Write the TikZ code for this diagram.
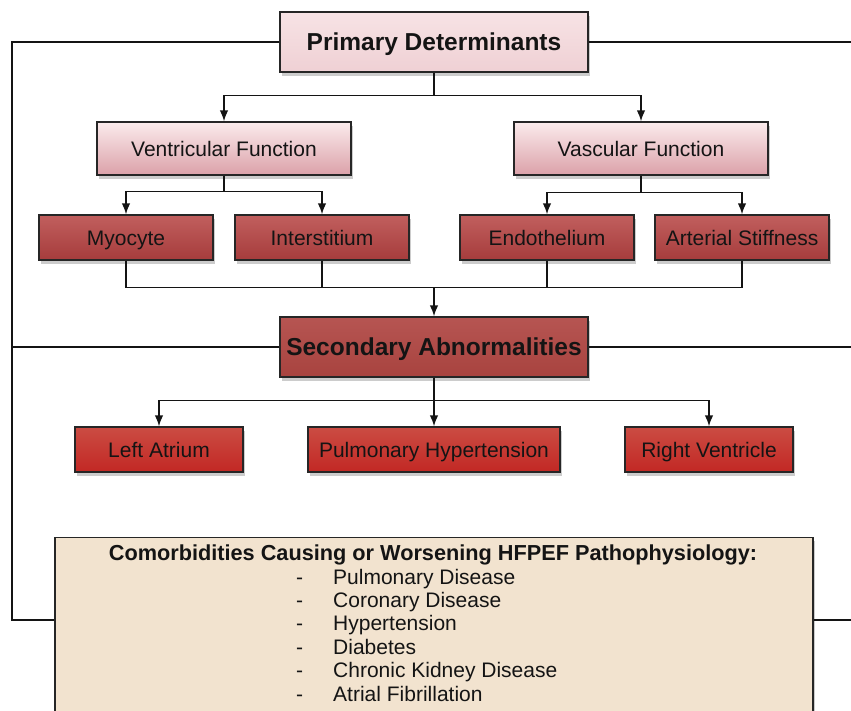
\documentclass[tikz,border=0pt]{standalone}
\usepackage{fontspec}
\setmainfont{Liberation Sans}
\usetikzlibrary{arrows.meta,shadows,calc}
\definecolor{primtop}{HTML}{F7E3E5}
\definecolor{primbot}{HTML}{EFD0D4}
\definecolor{fntop}{HTML}{FBEBEC}
\definecolor{fnbot}{HTML}{DBA1A9}
\definecolor{lvtop}{HTML}{C15F5E}
\definecolor{lvbot}{HTML}{A63C3C}
\definecolor{sectop}{HTML}{B65552}
\definecolor{secbot}{HTML}{A8433F}
\definecolor{l3top}{HTML}{CB4C43}
\definecolor{l3bot}{HTML}{C22824}
\definecolor{combg}{HTML}{F2E3CF}
\definecolor{ink}{HTML}{141414}
\begin{document}
\begin{tikzpicture}[x=1pt,y=-1pt,
  box/.style={draw=black!85, line width=1.4pt, inner sep=0pt, text=ink,
    drop shadow={shadow xshift=1.5pt, shadow yshift=-3.5pt, opacity=.4}},
  bigbox/.style={box, top color=#1top, bottom color=#1bot, minimum width=308pt, minimum height=60pt,
    font=\fontsize{24.5}{28}\selectfont\bfseries, text height=17pt, text depth=0pt},
  midbox/.style={box, top color=fntop, bottom color=fnbot, minimum width=254pt, minimum height=53pt,
    font=\fontsize{21}{25}\selectfont, text height=15pt, text depth=0pt},
  lvbox/.style={box, top color=lvtop, bottom color=lvbot, minimum width=174pt, minimum height=45pt,
    font=\fontsize{21}{25}\selectfont, text height=15pt, text depth=0pt},
  lowbox/.style={box, top color=l3top, bottom color=l3bot, minimum height=45pt,
    font=\fontsize{21}{25}\selectfont, text height=15pt, text depth=0pt},
  conn/.style={draw=ink, line width=1.4pt},
  arr/.style={conn, -{Latex[length=11pt,width=8.5pt]}},
  item/.style={inner sep=0pt, anchor=base west, text=ink, font=\fontsize{21}{24}\selectfont}
]
\useasboundingbox (0,0) rectangle (851,710);
\fill[white] (0,0) rectangle (851,710);
\clip (0,0) rectangle (851,710);

% nodes
\node[bigbox=prim] (prim) at (434,42) {Primary Determinants};
\node[midbox] (vent) at (224,148.5) {Ventricular Function};
\node[midbox] (vasc) at (641,148.5) {Vascular Function};
\node[lvbox] (myo) at (126,237.5) {Myocyte};
\node[lvbox] (inter) at (322,237.5) {Interstitium};
\node[lvbox] (endo) at (547,237.5) {Endothelium};
\node[lvbox] (art) at (742,237.5) {Arterial Stiffness};
\node[bigbox=sec] (sec) at (434,347) {Secondary Abnormalities};
\node[lowbox, minimum width=168pt] (la) at (159,449.5) {Left Atrium};
\node[lowbox, minimum width=252pt] (ph) at (434,449.5) {Pulmonary Hypertension};
\node[lowbox, minimum width=168pt] (rv) at (709,449.5) {Right Ventricle};
\node[box, fill=combg, minimum width=758pt, minimum height=200pt, anchor=north] (com) at (434,537) {};
\node[inner sep=0pt, anchor=base, text=ink, font=\fontsize{21.7}{25}\selectfont\bfseries] (comt) at (433,560)
  {Comorbidities Causing or Worsening HFPEF Pathophysiology:};
\foreach \t [count=\i] in {Pulmonary Disease, Coronary Disease, Hypertension, Diabetes, Chronic Kidney Disease, Atrial Fibrillation}
  \node[item] (it\i) at (296,{584+(\i-1)*23.4}) {\makebox[37pt][l]{-}\t};

% connectors
\draw[arr] (prim.south) -- ++(0,23) -| (vent.north);
\draw[arr] (prim.south) -- ++(0,23) -| (vasc.north);
\draw[arr] (vent.south) -- ++(0,16) -| (myo.north);
\draw[arr] (vent.south) -- ++(0,16) -| (inter.north);
\draw[arr] (vasc.south) -- ++(0,17) -| (endo.north);
\draw[arr] (vasc.south) -- ++(0,17) -| (art.north);
\draw[conn] (myo.south) -- ++(0,27) -| (art.south);
\draw[conn] (inter.south) -- ++(0,27);
\draw[conn] (endo.south) -- ++(0,27);
\coordinate (jn) at (434,287);
\draw[arr] (jn) -- (sec.north);
\draw[arr] (sec.south) -- ++(0,23) -| (la.north);
\draw[arr] (sec.south) -- (ph.north);
\draw[arr] (sec.south) -- ++(0,23) -| (rv.north);

% side lines
\coordinate (lc) at (12,620);
\coordinate (rc) at (851,620);
\draw[conn] (prim.west) -| (lc) -- (com.west |- lc);
\draw[conn] (sec.west) -- (sec.west -| lc);
\draw[conn] (prim.east) -- (prim.east -| rc);
\draw[conn] (sec.east) -- (sec.east -| rc);
\draw[conn] (com.east |- rc) -- (rc);
\end{tikzpicture}
\end{document}
